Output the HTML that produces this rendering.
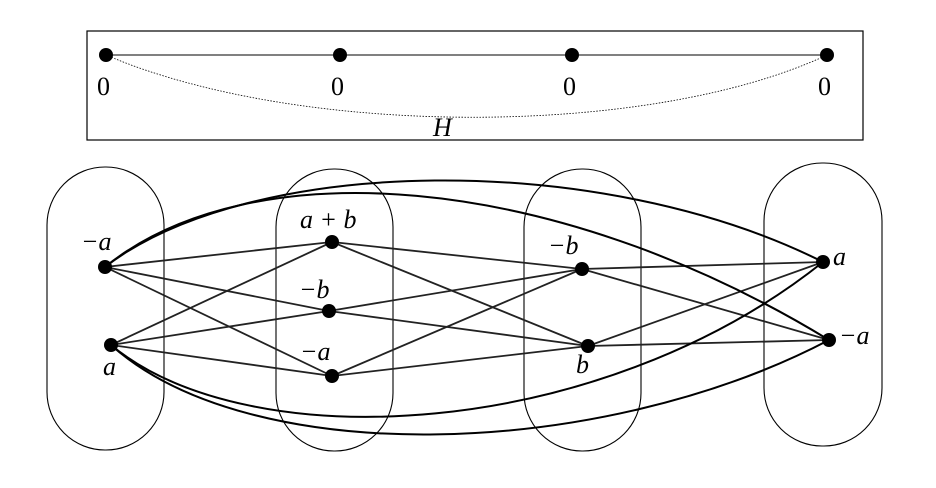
<!DOCTYPE html>
<html><head><meta charset="utf-8"><style>
body{margin:0;background:#fff;}
text{font-family:"Liberation Serif",serif;font-style:italic;font-size:26px;fill:#000;}
.n{font-style:normal;}
</style></head><body>
<svg width="936" height="483" viewBox="0 0 936 483" xmlns="http://www.w3.org/2000/svg">
<rect x="87" y="31" width="776" height="109" fill="none" stroke="#000" stroke-width="1.2"/>
<line x1="106" y1="55" x2="827" y2="55" stroke="#000" stroke-width="1"/>
<path d="M106,55 C300,138 650,138 827,55" fill="none" stroke="#000" stroke-width="0.8" stroke-dasharray="1.5,1.5"/>
<g fill="#000"><circle cx="106" cy="55" r="7"/><circle cx="340" cy="55" r="7"/><circle cx="572" cy="55" r="7"/><circle cx="827" cy="55" r="7"/></g>
<text class="n" x="97" y="95">0</text><text class="n" x="331" y="95">0</text><text class="n" x="563" y="95">0</text><text class="n" x="818" y="95">0</text>
<text x="433" y="136">H</text>
<g fill="none" stroke="#000" stroke-width="1.1">
<rect x="47" y="167" width="117" height="283" rx="58"/>
<rect x="276" y="169" width="117" height="282" rx="58"/>
<rect x="524" y="169" width="117" height="282" rx="58"/>
<rect x="764" y="163" width="118" height="283" rx="58"/>
</g>
<g fill="none" stroke="#222" stroke-width="1.8">
<line x1="105" y1="267" x2="332" y2="242"/><line x1="105" y1="267" x2="329" y2="311"/><line x1="105" y1="267" x2="332" y2="376"/>
<line x1="111" y1="345" x2="332" y2="242"/><line x1="111" y1="345" x2="329" y2="311"/><line x1="111" y1="345" x2="332" y2="376"/>
<line x1="332" y1="242" x2="582" y2="269"/><line x1="332" y1="242" x2="588" y2="346"/>
<line x1="329" y1="311" x2="582" y2="269"/><line x1="329" y1="311" x2="588" y2="346"/>
<line x1="332" y1="376" x2="582" y2="269"/><line x1="332" y1="376" x2="588" y2="346"/>
<line x1="582" y1="269" x2="823" y2="262"/><line x1="582" y1="269" x2="829" y2="340"/>
<line x1="588" y1="346" x2="823" y2="262"/><line x1="588" y1="346" x2="829" y2="340"/>
</g>
<g fill="none" stroke="#000" stroke-width="2">
<path d="M105,267 C250,155 600,150 823,262"/>
<path d="M105,267 C250,150 550,170 829,340"/>
<path d="M111,345 C250,460 600,440 823,262"/>
<path d="M111,345 C250,470 600,460 829,340"/>
</g>
<g fill="#000">
<circle cx="105" cy="267" r="7"/><circle cx="111" cy="345" r="7"/>
<circle cx="332" cy="242" r="7"/><circle cx="329" cy="311" r="7"/><circle cx="332" cy="376" r="7"/>
<circle cx="582" cy="269" r="7"/><circle cx="588" cy="346" r="7"/>
<circle cx="823" cy="262" r="7"/><circle cx="829" cy="340" r="7"/>
</g>
<text x="81" y="250">−a</text>
<text x="103" y="375">a</text>
<text x="300" y="228">a + b</text>
<text x="299" y="298">−b</text>
<text x="300" y="360">−a</text>
<text x="548" y="254">−b</text>
<text x="576" y="373">b</text>
<text x="833" y="265">a</text>
<text x="839" y="344">−a</text>
</svg>
</body></html>
